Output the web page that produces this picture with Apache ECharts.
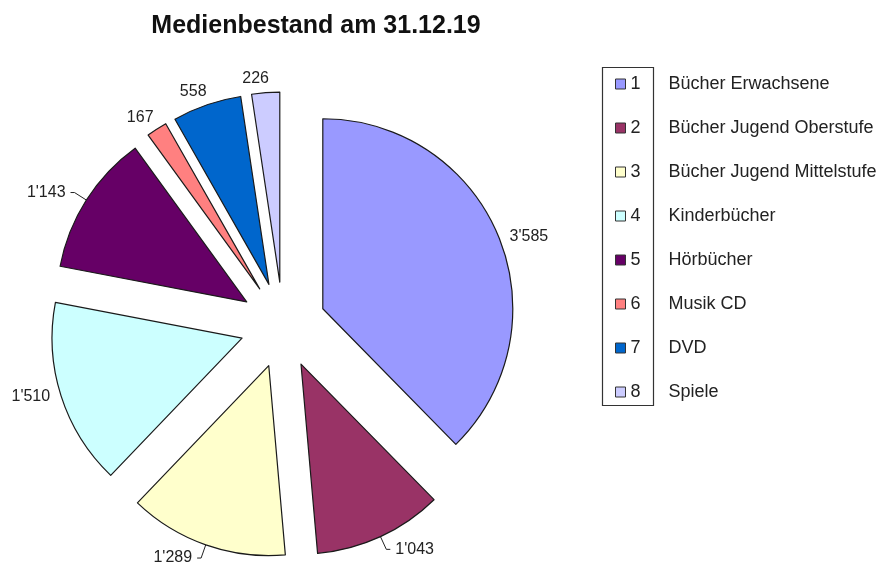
<!DOCTYPE html>
<html><head><meta charset="utf-8">
<script src="https://cdn.jsdelivr.net/npm/echarts@6/dist/echarts.min.js"></script>
<style>html,body{margin:0;padding:0;background:#fff}#c{width:876px;height:568px}</style>
</head><body><div id="c"></div>
<script>
// data
const categories = ['Bücher Erwachsene','Bücher Jugend Oberstufe','Bücher Jugend Mittelstufe','Kinderbücher','Hörbücher','Musik CD','DVD','Spiele'];
const values = [3585, 1043, 1289, 1510, 1143, 167, 558, 226];
const titleText = 'Medienbestand am 31.12.19';

// styles
const colors = ['#9999FF','#993366','#FFFFCC','#CCFFFF','#660066','#FF8080','#0066CC','#CCCCFF'];
const withLine = [false, true, true, false, true, false, false, false];
const labelLineLen = [2, 14, 14, 2, 14, 14, 14, 14];

function fmt(v){ return String(v).replace(/\B(?=(\d{3})+(?!\d))/g, "'"); }

// mid angle (degrees clockwise from top) of each slice, for label alignment
const total = values.reduce((a,b)=>a+b,0);
let acc = 0;
const midAngle = values.map(v=>{const m=(acc+v/2)/total*360; acc+=v; return m;});

const chart = echarts.init(document.getElementById('c'), null, {renderer:'canvas'});
chart.setOption({
  animation:false,
  backgroundColor:'#fff',
  title:{text:titleText,left:311,top:9,textAlign:'center',
    textStyle:{fontFamily:'Liberation Sans',fontSize:25,fontWeight:'bold',color:'#111'}},
  graphic:[{type:'rect',left:600,top:65,shape:{width:51,height:338},
    style:{fill:'none',stroke:'#333',lineWidth:1.2},silent:true}],
  legend:{orient:'vertical',left:610,top:69,itemWidth:10,itemHeight:10,itemGap:24,
    icon:'rect',selectedMode:false,
    itemStyle:{borderColor:'#333',borderWidth:1},
    data:categories,
    formatter:function(name){const i=categories.indexOf(name);return '{n|'+(i+1)+'}{t|'+name+'}';},
    textStyle:{fontFamily:'Liberation Sans',fontSize:18,color:'#222',lineHeight:20,
      rich:{n:{width:38,fontSize:18,lineHeight:20,fontFamily:'Liberation Sans',color:'#222'},
            t:{fontSize:18,lineHeight:20,fontFamily:'Liberation Sans',color:'#222'}}}},
  series:[{
    type:'pie',center:[283,325],radius:[0,190],startAngle:90,clockwise:true,
    selectedMode:'multiple',selectedOffset:43,avoidLabelOverlap:false,
    emphasis:{disabled:true},
    itemStyle:{borderColor:'#1a1a1a',borderWidth:1.2},
    label:{show:true,position:'outside',fontFamily:'Liberation Sans',fontSize:16,color:'#222',
      formatter:p=>fmt(p.value)},
    labelLine:{show:true,length:14,length2:4,lineStyle:{color:'#222',width:1}},
    labelLayout:function(p){
      const a = midAngle[p.dataIndex];
      if (a > 320 || a < 40) return {align:'center'};
      return {};
    },
    data:categories.map((c,i)=>({name:c,value:values[i],selected:true,
      itemStyle:{color:colors[i]},
      labelLine:{show:withLine[i],length:labelLineLen[i]}}))
  }]
});
</script></body></html>
